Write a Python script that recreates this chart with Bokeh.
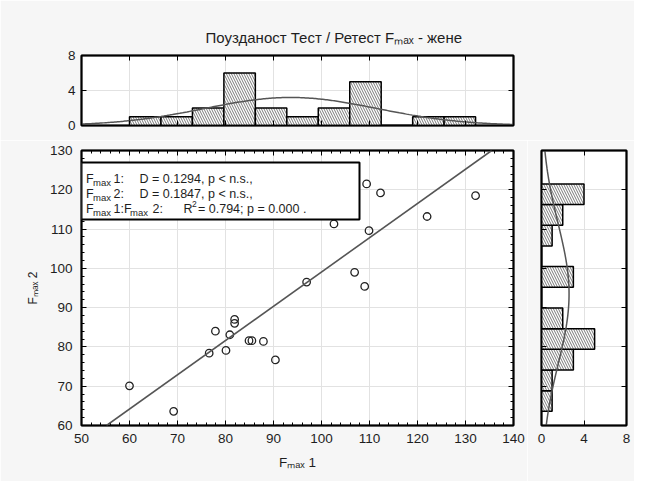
import numpy as np
from bokeh.plotting import figure
from bokeh.layouts import column, row
from bokeh.models import Label, BoxAnnotation, Slope, FixedTicker, LinearAxis, Range1d, Title
from bokeh.embed import file_html
from bokeh.resources import INLINE

FONT = "Liberation Sans"

# ---- data ----
fmax1 = [60.0, 69.2, 76.6, 77.9, 80.1, 80.9, 81.9, 81.9, 84.9, 85.5, 87.9,
         90.4, 96.9, 101.0, 102.6, 106.9, 109.0, 109.4, 109.9, 112.3, 122.0, 132.1]
fmax2 = [70.1, 63.6, 78.4, 84.0, 79.1, 83.1, 87.0, 86.0, 81.6, 81.6, 81.4,
         76.7, 96.5, 120.0, 111.3, 99.0, 95.4, 121.5, 109.6, 119.2, 113.2, 118.5]
hist1_counts = [1, 1, 2, 6, 2, 1, 2, 5, 0, 1, 1]
hist2_counts = [1, 1, 3, 5, 2, 0, 3, 0, 1, 2, 4]
x_ticks = [50, 60, 70, 80, 90, 100, 110, 120, 130, 140]
y_ticks = [60, 70, 80, 90, 100, 110, 120, 130]
count_ticks = [0, 4, 8]
title_text = "Поузданост Тест / Ретест Fₘₐₓ - жене"
x_title = "Fₘₐₓ 1"
y_title = "Fₘₐₓ 2"
stat1 = "D = 0.1294, p < n.s.,"
stat2 = "D = 0.1847, p < n.s.,"
stat3 = "= 0.794; p = 0.000  ."

x = np.array(fmax1)
y = np.array(fmax2)
n = len(x)
edges1 = np.linspace(x.min(), x.max(), len(hist1_counts) + 1)
edges2 = np.linspace(y.min(), y.max(), len(hist2_counts) + 1)
slope, intercept = np.polyfit(x, y, 1)

TXT = "#1e1e1e"
GRID = "#e2e2e2"
BG = "#f6f6f6"


def minor_of(ticks, k=5):
    out = []
    for a, b in zip(ticks[:-1], ticks[1:]):
        step = (b - a) / k
        out += [a + step * i for i in range(1, k)]
    return out


def style_axis(ax, ticks, minor, labels=True, size="13.5px"):
    ax.ticker = FixedTicker(ticks=ticks, minor_ticks=minor)
    ax.major_tick_in = 5
    ax.major_tick_out = 0
    ax.minor_tick_in = 3
    ax.minor_tick_out = 0
    ax.axis_line_color = "black"
    ax.axis_line_width = 1.5
    ax.major_tick_line_color = "black"
    ax.minor_tick_line_color = "black"
    ax.major_label_text_font = FONT
    ax.major_label_text_font_size = size
    ax.major_label_text_color = TXT
    ax.major_label_standoff = 7
    ax.axis_label_text_font = FONT
    ax.axis_label_text_font_style = "normal"
    ax.axis_label_text_color = TXT
    if not labels:
        ax.major_label_overrides = {float(t): "" for t in ticks}
        ax.major_label_standoff = 0


def make_fig(xr, yr, w, h, bl, br, bt, bb):
    p = figure(x_range=Range1d(*xr), y_range=Range1d(*yr),
               width=w, height=h,
               min_border_left=bl, min_border_right=br,
               min_border_top=bt, min_border_bottom=bb,
               output_backend="svg", toolbar_location=None)
    p.border_fill_color = BG
    p.background_fill_color = "white"
    p.outline_line_color = "black"
    p.outline_line_width = 2
    p.xgrid.grid_line_color = GRID
    p.ygrid.grid_line_color = GRID
    return p


def lab(p, lx, ly, text, size, align="left"):
    p.add_layout(Label(x=lx, y=ly, text=text, text_font=FONT, text_font_size=size,
                       text_align=align, text_baseline="middle", text_color=TXT))


# ---------------- top histogram ----------------
top = make_fig((50, 140), (0, 8), 634, 140, 81, 121, 55, 15)
style_axis(top.below[0], x_ticks, [], labels=False)
style_axis(top.left[0], count_ticks, [], labels=True)
top.left[0].major_label_standoff = 6
ax = LinearAxis(); style_axis(ax, x_ticks, [], labels=False); top.add_layout(ax, "above")
ax = LinearAxis(); style_axis(ax, count_ticks, [], labels=False); top.add_layout(ax, "right")
top.add_layout(Title(text=title_text, align="left", offset=124, standoff=19,
                     text_font=FONT, text_font_size="15px", text_font_style="normal",
                     text_color=TXT), "above")
top.xgrid.ticker = FixedTicker(ticks=x_ticks)
top.ygrid.ticker = FixedTicker(ticks=count_ticks)
top.quad(left=edges1[:-1], right=edges1[1:], bottom=0, top=hist1_counts,
         fill_color="white", line_color="black", line_width=1.5,
         hatch_pattern="\\", hatch_color="#6a6a6a", hatch_scale=5, hatch_weight=0.9)
bw1 = edges1[1] - edges1[0]
xs = np.linspace(50, 140, 300)
s1 = x.std(ddof=1)
pdf1 = n * bw1 * np.exp(-0.5 * ((xs - x.mean()) / s1) ** 2) / (s1 * np.sqrt(2 * np.pi))
top.line(xs, pdf1, line_color="#555555", line_width=1.5)

# ---------------- main scatter ----------------
main = make_fig((50, 140), (60, 130), 527, 341, 81, 14, 10, 56)
style_axis(main.below[0], x_ticks, minor_of(x_ticks))
style_axis(main.left[0], y_ticks, minor_of(y_ticks))
main.below[0].major_label_standoff = 8
main.left[0].major_label_standoff = 9
main.below[0].axis_label = x_title
main.below[0].axis_label_text_font_size = "13.5px"
main.below[0].axis_label_standoff = 9
main.left[0].axis_label = y_title
main.left[0].axis_label_text_font_size = "12px"
main.left[0].axis_label_standoff = 7
ax = LinearAxis(); style_axis(ax, x_ticks, minor_of(x_ticks), labels=False); main.add_layout(ax, "above")
ax = LinearAxis(); style_axis(ax, y_ticks, minor_of(y_ticks), labels=False); main.add_layout(ax, "right")
main.xgrid.ticker = FixedTicker(ticks=x_ticks)
main.ygrid.ticker = FixedTicker(ticks=y_ticks)
main.add_layout(Slope(gradient=slope, y_intercept=intercept, line_color="#555555", line_width=1.6))
main.scatter(x, y, marker="circle", size=7.5, fill_color=None, line_color="#222222", line_width=1.3)


def mx(px):
    return 50 + (px - 81) * 90 / 432


def my(py):
    return 60 + (425 - py) * 70 / 275


main.add_layout(BoxAnnotation(left=50, right=mx(359), bottom=my(219), top=my(162),
                              fill_color="white", fill_alpha=1.0,
                              line_color="black", line_width=2, line_alpha=1.0))
for ly, idx, st in [(178, "1:", stat1), (193, "2:", stat2)]:
    lab(main, mx(85.5), my(ly), "F", "12.5px")
    lab(main, mx(92.5), my(ly + 3.5), "max", "9.5px")
    lab(main, mx(113), my(ly), idx, "12.5px")
    lab(main, mx(139), my(ly), st, "12.5px")
lab(main, mx(85.5), my(208), "F", "12.5px")
lab(main, mx(92.5), my(211.5), "max", "9.5px")
lab(main, mx(113), my(208), "1:F", "12.5px")
lab(main, mx(129.5), my(211.5), "max", "9.5px")
lab(main, mx(152), my(208), "2:", "12.5px")
lab(main, mx(183), my(208), "R", "12.5px")
lab(main, mx(191.5), my(203.5), "2", "8.5px")
lab(main, mx(197.5), my(208), stat3, "12.5px")

# ---------------- right histogram ----------------
side = make_fig((0, 8), (60, 130), 107, 341, 14, 8, 10, 56)
style_axis(side.below[0], count_ticks, [])
side.below[0].major_label_standoff = 8
style_axis(side.left[0], y_ticks, [], labels=False)
ax = LinearAxis(); style_axis(ax, count_ticks, [], labels=False); side.add_layout(ax, "above")
ax = LinearAxis(); style_axis(ax, y_ticks, [], labels=False); side.add_layout(ax, "right")
side.xgrid.ticker = FixedTicker(ticks=count_ticks)
side.ygrid.ticker = FixedTicker(ticks=y_ticks)
side.quad(left=0, right=hist2_counts, bottom=edges2[:-1], top=edges2[1:],
          fill_color="white", line_color="black", line_width=1.5,
          hatch_pattern="\\", hatch_color="#6a6a6a", hatch_scale=5, hatch_weight=0.9)
bw2 = edges2[1] - edges2[0]
ys = np.linspace(60, 130, 300)
s2 = y.std(ddof=1)
pdf2 = n * bw2 * np.exp(-0.5 * ((ys - y.mean()) / s2) ** 2) / (s2 * np.sqrt(2 * np.pi))
side.line(pdf2, ys, line_color="#555555", line_width=1.5)

layout = column(top, row(main, side))
open("out.html", "w").write(file_html(layout, INLINE))
